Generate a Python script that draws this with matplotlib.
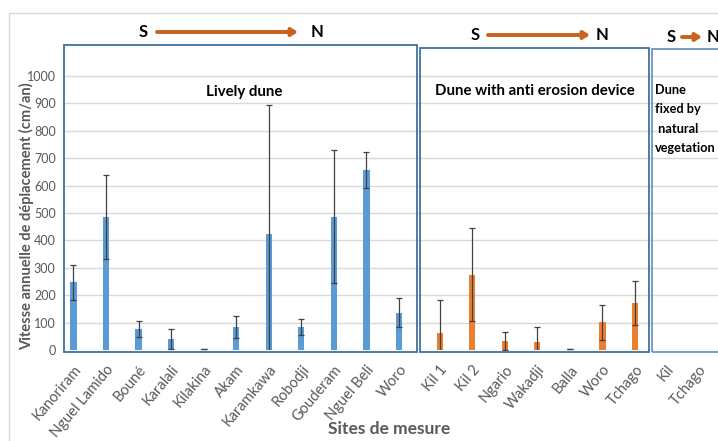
import matplotlib
matplotlib.use('Agg')
from matplotlib import pyplot as plt
from matplotlib import font_manager
from matplotlib.patches import Rectangle

# données (cm/an)
sites_live = ['Kanoriram', 'Nguel Lamido', 'Bouné', 'Karalali', 'Kilakina', 'Akam',
              'Karamkawa', 'Robodji', 'Gouderam', 'Nguel Beli', 'Woro']
v_live = [248, 485, 77, 40, 2, 83, 423, 85, 487, 657, 136]
e_live = [64, 154, 30, 35, 0, 40, 472, 29, 243, 66, 53]

sites_dev = ['Kil 1', 'Kil 2', 'Ngario', 'Wakadji', 'Balla', 'Woro', 'Tchago']
v_dev = [61, 275, 33, 28, 2, 102, 172]
e_dev = [120, 170, 34, 57, 0, 64, 80]

sites_fix = ['Kil', 'Tchago']
v_fix = [0, 0]

y_ticks = [0, 100, 200, 300, 400, 500, 600, 700, 800, 900, 1000]

W, H = 718, 441
avail = {f.name for f in font_manager.fontManager.ttflist}
fam = 'Liberation Sans Narrow' if 'Liberation Sans Narrow' in avail else 'Lato'
plt.rcParams['font.family'] = [fam, 'DejaVu Sans']

gray = '#595959'
boxc = '#41719C'


def fx(x):
    return x / W


def fy(y):
    return 1 - y / H


fig = plt.figure(figsize=(7.18, 4.41), dpi=100)
ax = fig.add_axes([fx(64), fy(350), fx(718) - fx(64), fy(45) - fy(350)])

pos_live = list(range(len(sites_live)))
pos_dev = [11.25 + i for i in range(len(sites_dev))]
pos_fix = [18.2 + i for i in range(len(sites_fix))]

ekw = dict(ecolor='#404040', elinewidth=0.9, capsize=2.5, capthick=0.9)
ax.bar(pos_live, v_live, width=0.19, color='#5B9BD5', yerr=e_live, error_kw=ekw, zorder=3)
ax.bar(pos_dev, v_dev, width=0.19, color='#ED7D31', yerr=e_dev, error_kw=ekw, zorder=3)
ax.bar(pos_fix, v_fix, width=0.19, color='#A5A5A5', zorder=3)

ax.set_xlim(-0.29, 19.8)
ax.set_ylim(0, 1113)
ax.set_yticks(y_ticks)
ax.tick_params(axis='y', length=0, labelsize=9, labelcolor=gray, pad=6)
ax.tick_params(axis='x', length=0, labelsize=10.5, labelcolor=gray, pad=9)
ax.set_xticks(pos_live + pos_dev + pos_fix, sites_live + sites_dev + sites_fix,
              rotation=50, ha='right', va='top', rotation_mode='anchor')
ax.grid(axis='y', color='#D9D9D9', lw=1, zorder=0)
for s in ax.spines.values():
    s.set_visible(False)

fig.text(fx(27), fy(216), 'Vitesse annuelle de déplacement (cm/an)', fontsize=10.5,
         fontweight='bold', color=gray, rotation=90, ha='center', va='center')
fig.text(fx(389), fy(429), 'Sites de mesure', fontsize=12.5, fontweight='bold',
         color=gray, ha='center', va='center')

# cadre du graphique
fig.add_artist(Rectangle((fx(9), fy(460)), fx(760) - fx(9), fy(13) - fy(460),
                         transform=fig.transFigure, fill=False, ec='#D9D9D9', lw=1))

# cadres des groupes
for x0, x1, y0, c in [(64, 417, 45, boxc), (420, 649, 48, boxc), (652, 760, 49, '#6F93BD')]:
    fig.add_artist(Rectangle((fx(x0), fy(352)), fx(x1) - fx(x0), fy(y0) - fy(352),
                             transform=fig.transFigure, fill=False, ec=c, lw=1.3))

# flèches S -> N
for xs, xa, xb, xn, yy in [(143, 157, 298, 317, 32), (475, 488, 590, 602, 35), (671, 682, 702, 713, 37)]:
    fig.text(fx(xs), fy(yy), 'S', fontsize=12, fontweight='bold', ha='center', va='center')
    fig.text(fx(xn), fy(yy), 'N', fontsize=12, fontweight='bold', ha='center', va='center')
    ax.annotate('', xy=(xb, H - yy), xytext=(xa, H - yy), xycoords='figure pixels',
                textcoords='figure pixels',
                arrowprops=dict(arrowstyle='-|>,head_length=0.35,head_width=0.22',
                                color='#C9621C', lw=2.8, shrinkA=0, shrinkB=0))

fig.text(fx(244), fy(92), 'Lively dune', fontsize=10.8, fontweight='bold', ha='center', va='center')
fig.text(fx(535), fy(91), 'Dune with anti erosion device', fontsize=10.8, fontweight='bold',
         ha='center', va='center')
fig.text(fx(655), fy(119), 'Dune\nfixed by\n natural\nvegetation', fontsize=9.2,
         fontweight='bold', ha='left', va='center', linespacing=1.75)

plt.savefig('out.png', dpi=100)
